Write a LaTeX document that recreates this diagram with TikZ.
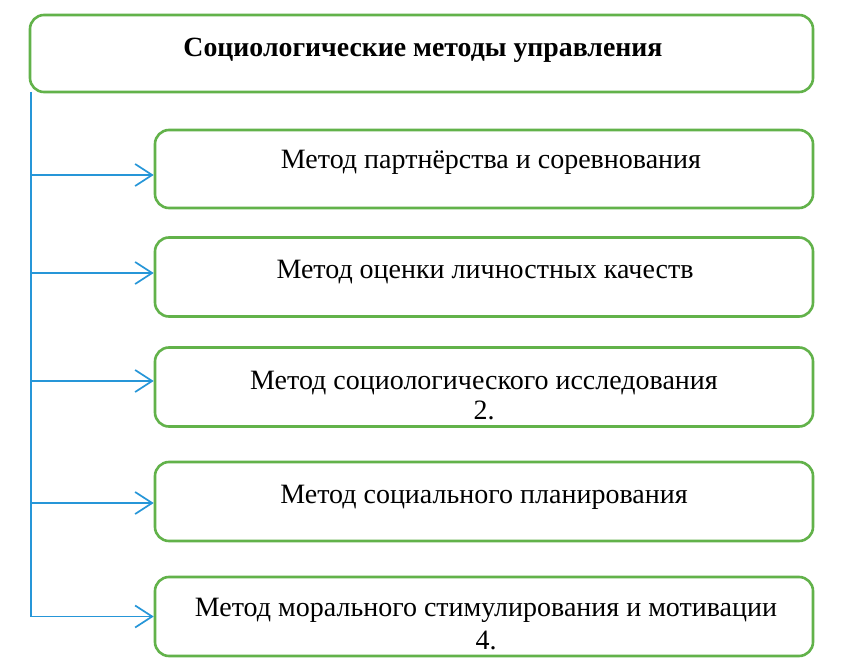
\documentclass[tikz,border=0pt]{standalone}
\usepackage{fontspec}
\setmainfont{Liberation Serif}
\newfontfamily\tnr{Liberation Serif}
\usetikzlibrary{arrows.meta,calc}
\definecolor{boxgreen}{RGB}{98,178,74}
\definecolor{linkblue}{RGB}{38,150,216}
\begin{document}
\begin{tikzpicture}[x=1pt,y=-1pt,
  box/.style={draw=boxgreen,line width=2.6pt,rounded corners=14pt,inner sep=0pt},
  lbl/.style={inner sep=0pt,align=center,font=\tnr\fontsize{28}{31}\selectfont},
  conn/.style={draw=linkblue,line width=1.7pt,-{Straight Barb[length=17pt,width=22pt,line width=1.7pt]}}]
\useasboundingbox[fill=white] (0,0) rectangle (854,663);
\node[box,minimum width=783pt,minimum height=77pt] (top) at (421.5,53.5) {};
\node[lbl,font=\tnr\fontsize{27.8}{31}\selectfont\bfseries] (ttop) at (423,50) {Социологические методы управления};
\node[box,minimum width=658pt,minimum height=78pt] (b1) at (484,169) {};
\node[box,minimum width=658pt,minimum height=79pt] (b2) at (484,277) {};
\node[box,minimum width=658pt,minimum height=79pt] (b3) at (484,387) {};
\node[box,minimum width=658pt,minimum height=79pt] (b4) at (484,501.5) {};
\node[box,minimum width=658pt,minimum height=79pt] (b5) at (484,616.5) {};
\node[lbl] (t1) at (491,162) {Метод партнёрства и соревнования};
\node[lbl] (t2) at (485,272) {Метод оценки личностных качеств};
\node[lbl,anchor=north,font=\tnr\fontsize{28}{30}\selectfont] (t3) at (484,371) {Метод социологического исследования\\2.};
\node[lbl] (t4) at (484,497) {Метод социального планирования};
\node[lbl,anchor=north,font=\tnr\fontsize{28}{32.5}\selectfont] (t5) at (486,598) {Метод морального стимулирования и мотивации\\4.};
\coordinate (spine) at (31,92);
\draw[draw=linkblue,line width=1.7pt] (spine) -- (spine |- b5.west);
\draw[conn] (spine |- b1.west) ++(0,6) coordinate (s1) -- (s1 -| b1.west);
\draw[conn] (spine |- b2.west) ++(0,-4) coordinate (s2) -- (s2 -| b2.west);
\draw[conn] (spine |- b3.west) ++(0,-6) coordinate (s3) -- (s3 -| b3.west);
\draw[conn] (spine |- b4.west) ++(0,1.5) coordinate (s4) -- (s4 -| b4.west);
\draw[conn] (spine |- b5.west) -- (b5.west);
\end{tikzpicture}
\end{document}
